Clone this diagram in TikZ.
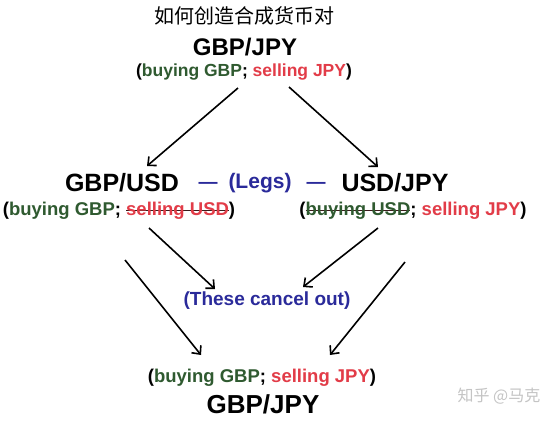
\documentclass[tikz,border=0pt]{standalone}
\usepackage{fontspec}
\setmainfont{Liberation Sans}
\newfontfamily\cjk{Noto Sans CJK SC}
\usetikzlibrary{arrows.meta}
\definecolor{gbpgreen}{HTML}{2F5A30}
\definecolor{jpyred}{HTML}{E23C48}
\definecolor{legblue}{HTML}{2A2A9A}
\definecolor{wmgray}{HTML}{C4C4C4}
\definecolor{strkcol}{HTML}{3A1A1A}
\newsavebox\strkbox
\newcommand\strk[1]{\sbox\strkbox{#1}\rlap{\textcolor{strkcol}{\rule[0.45ex]{\wd\strkbox}{1.6pt}}}\usebox\strkbox}
\begin{document}
\begin{tikzpicture}[x=1pt,y=-1pt,
  pair/.style={font=\fontsize{24}{24}\selectfont\bfseries, inner sep=0},
  sub/.style={font=\fontsize{17.5}{17.5}\selectfont\bfseries, inner sep=0},
  bluetxt/.style={font=\fontsize{19}{19}\selectfont\bfseries, text=legblue, inner sep=0},
  arr/.style={line width=1.6pt, -{Straight Barb[length=6.5pt,width=12pt,line width=1.6pt]}}]
\useasboundingbox[fill=white] (0,0) rectangle (557,421);

\node[font=\fontsize{20}{20}\selectfont\cjk, inner sep=0] (title) at (244,16) {如何创造合成货币对};

\node[pair] (top) at (245,47) {GBP/JPY};
\node[sub] (topsub) at (244,72) {(\textcolor{gbpgreen}{buying GBP}; \textcolor{jpyred}{selling JPY})};

\node[pair, font=\fontsize{25}{25}\selectfont\bfseries] (gu) at (122,183) {GBP/USD};
\node[bluetxt] (d1) at (208,185) {—};
\node[bluetxt, font=\fontsize{21}{21}\selectfont\bfseries] (legs) at (260,183) {(Legs)};
\node[bluetxt] (d2) at (316,185) {—};
\node[pair, font=\fontsize{25}{25}\selectfont\bfseries] (uj) at (395,183) {USD/JPY};

\node[sub, font=\fontsize{18.5}{18.5}\selectfont\bfseries] (gusub) at (119,211) {(\textcolor{gbpgreen}{buying GBP}; \textcolor{jpyred}{\strk{selling USD}})};
\node[sub, font=\fontsize{18.5}{18.5}\selectfont\bfseries] (ujsub) at (413,211) {(\textcolor{gbpgreen}{\strk{buying USD}}; \textcolor{jpyred}{selling JPY})};

\node[bluetxt] (cancel) at (267,301) {(These cancel out)};

\node[sub, font=\fontsize{18.5}{18.5}\selectfont\bfseries] (botsub) at (262,378) {(\textcolor{gbpgreen}{buying GBP}; \textcolor{jpyred}{selling JPY})};
\node[pair, font=\fontsize{26}{26}\selectfont\bfseries] (bot) at (263,404) {GBP/JPY};

\node[font=\fontsize{16}{16}\selectfont\cjk, text=wmgray, inner sep=0] (wm) at (499,396) {知乎 @马克};

\coordinate (a1s) at (238,88);  \coordinate (a1e) at (147,166);
\coordinate (a2s) at (289,87);  \coordinate (a2e) at (378,167);
\coordinate (a3s) at (149,228); \coordinate (a3e) at (215,289);
\coordinate (a4s) at (378,228); \coordinate (a4e) at (303,287);
\coordinate (a5s) at (125,260); \coordinate (a5e) at (201,355);
\coordinate (a6s) at (405,262); \coordinate (a6e) at (330,355);

\draw[arr] (a1s) -- (a1e);
\draw[arr] (a2s) -- (a2e);
\draw[arr] (a3s) -- (a3e);
\draw[arr] (a4s) -- (a4e);
\draw[arr] (a5s) -- (a5e);
\draw[arr] (a6s) -- (a6e);
\end{tikzpicture}
\end{document}
